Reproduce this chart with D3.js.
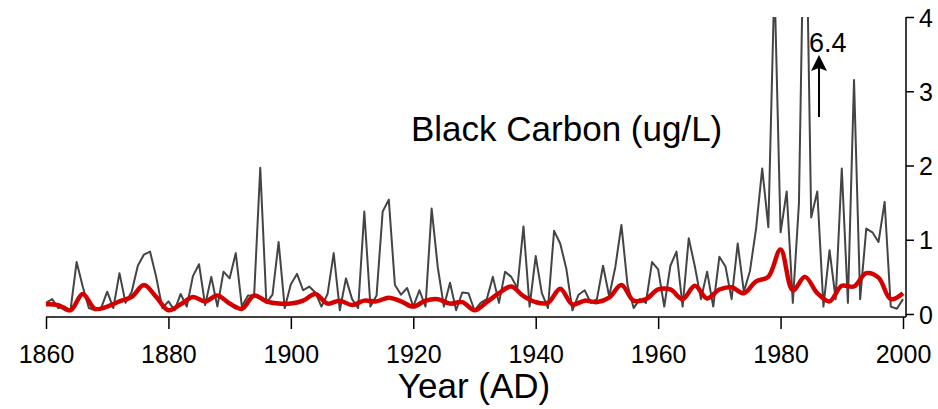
<!DOCTYPE html>
<html>
<head>
<meta charset="UTF-8">
<script src="https://d3js.org/d3.v7.min.js"></script>
<style>
  body { margin: 0; background: #fff; }
  svg text { font-family: "Liberation Sans", Arial, Helvetica, sans-serif; fill: #000; }
</style>
</head>
<body>
<div id="chart"></div>
<script>
// annual black carbon, 1860 .. 2000 (ug/L)
var years = d3.range(1860, 2001);
var bc = [
  0.15, 0.20, 0.08, 0.10, 0.05, 0.70, 0.37, 0.08, 0.05, 0.08,
  0.30, 0.08, 0.55, 0.15, 0.30, 0.65, 0.80, 0.84, 0.50, 0.08,
  0.17, 0.05, 0.27, 0.10, 0.51, 0.67, 0.12, 0.50, 0.10, 0.57,
  0.48, 0.82, 0.10, 0.25, 0.25, 1.97, 0.15, 0.26, 0.97, 0.08,
  0.40, 0.54, 0.32, 0.37, 0.29, 0.10, 0.27, 0.82, 0.05, 0.48,
  0.20, 0.08, 1.38, 0.10, 0.25, 1.38, 1.54, 0.39, 0.26, 0.35,
  0.10, 0.32, 0.10, 1.42, 0.63, 0.10, 0.42, 0.05, 0.29, 0.28,
  0.05, 0.15, 0.20, 0.50, 0.15, 0.57, 0.50, 0.35, 1.18, 0.10,
  0.78, 0.28, 0.08, 1.12, 0.95, 0.61, 0.05, 0.26, 0.32, 0.15,
  0.20, 0.65, 0.24, 0.63, 1.20, 0.39, 0.08, 0.20, 0.15, 0.70,
  0.60, 0.10, 0.65, 0.84, 0.10, 1.02, 0.64, 0.20, 0.57, 0.10,
  0.77, 0.64, 0.20, 0.95, 0.30, 0.58, 1.15, 1.96, 1.17, 4.50,
  1.10, 1.65, 0.15, 1.49, 6.40, 1.30, 1.65, 0.10, 0.86, 0.20,
  1.96, 0.15, 3.15, 0.20, 1.15, 1.10, 0.97, 1.51, 0.10, 0.07,
  0.20
];

// smoothed curve, every 2 years
var smoothYears = d3.range(1860, 2001, 2);
var smooth = [
  0.13, 0.12, 0.05, 0.27, 0.07, 0.10, 0.17, 0.23, 0.39, 0.23,
  0.05, 0.13, 0.23, 0.17, 0.25, 0.14, 0.07, 0.25, 0.17, 0.14,
  0.14, 0.18, 0.27, 0.14, 0.18, 0.12, 0.18, 0.17, 0.22, 0.17,
  0.10, 0.18, 0.20, 0.14, 0.16, 0.05, 0.16, 0.28, 0.37, 0.24,
  0.16, 0.15, 0.34, 0.13, 0.18, 0.16, 0.22, 0.39, 0.18, 0.20,
  0.33, 0.33, 0.20, 0.38, 0.21, 0.33, 0.36, 0.28, 0.44, 0.50,
  0.87, 0.32, 0.50, 0.28, 0.17, 0.38, 0.37, 0.55, 0.49, 0.20,
  0.28
];

var xTicks = [1860, 1880, 1900, 1920, 1940, 1960, 1980, 2000];
var yTicks = [0, 1, 2, 3, 4];

var width = 938, height = 409;

var svg = d3.select("#chart").append("svg")
  .attr("width", width)
  .attr("height", height);

var x = d3.scaleLinear().domain([1860, 2000]).range([46, 903]);
var y = d3.scaleLinear().domain([0, 4]).range([314, 17]);

svg.append("defs").append("clipPath").attr("id", "clip")
  .append("rect")
  .attr("x", 40).attr("y", 17)
  .attr("width", 866).attr("height", 300);

var plot = svg.append("g").attr("clip-path", "url(#clip)");

var line = d3.line()
  .x(function(d, i) { return x(years[i]); })
  .y(function(d) { return y(d); });

plot.append("path")
  .datum(bc)
  .attr("d", line)
  .attr("fill", "none")
  .attr("stroke", "#444")
  .attr("stroke-width", 2)
  .attr("stroke-linejoin", "round");

var smoothLine = d3.line()
  .curve(d3.curveCatmullRom)
  .x(function(d, i) { return x(smoothYears[i]); })
  .y(function(d) { return y(d); });

plot.append("path")
  .datum(smooth)
  .attr("d", smoothLine)
  .attr("fill", "none")
  .attr("stroke", "#d40000")
  .attr("stroke-width", 4.5)
  .attr("stroke-linejoin", "round");

// bottom axis
var xAxis = svg.append("g")
  .attr("transform", "translate(0,317)")
  .call(d3.axisBottom(x).tickValues(xTicks).tickFormat(d3.format("d")).tickSize(12).tickSizeOuter(0));
xAxis.select(".domain").attr("d", "M46,0H906").attr("stroke", "#000").attr("stroke-width", 1.5);
xAxis.selectAll(".tick line").attr("stroke", "#000").attr("stroke-width", 1.5);
xAxis.selectAll(".tick text").attr("font-size", "25px").attr("dy", "0").attr("y", 46);

// right axis
var yAxis = svg.append("g")
  .attr("transform", "translate(906,0)")
  .call(d3.axisRight(y).tickValues(yTicks).tickFormat(d3.format("d")).tickSize(8).tickSizeOuter(0));
yAxis.select(".domain").attr("d", "M0,17V317").attr("stroke", "#000").attr("stroke-width", 1.5);
yAxis.selectAll(".tick line").attr("stroke", "#000").attr("stroke-width", 1.5);
yAxis.selectAll(".tick text").attr("font-size", "25px").attr("x", 13).attr("dy", "0.36em");

svg.append("text")
  .attr("x", 474).attr("y", 398)
  .attr("text-anchor", "middle")
  .attr("font-size", "35px")
  .text("Year (AD)");

svg.append("text")
  .attr("x", 411).attr("y", 141)
  .attr("font-size", "35px")
  .text("Black Carbon (ug/L)");

// 6.4 off-scale annotation
svg.append("text")
  .attr("x", 809).attr("y", 52)
  .attr("font-size", "27px")
  .text("6.4");

svg.append("line")
  .attr("x1", 819).attr("x2", 819)
  .attr("y1", 117).attr("y2", 66)
  .attr("stroke", "#000").attr("stroke-width", 2);

svg.append("path")
  .attr("d", "M819,55L827,71L819,68L811,71Z")
  .attr("fill", "#000");
</script>
</body>
</html>
